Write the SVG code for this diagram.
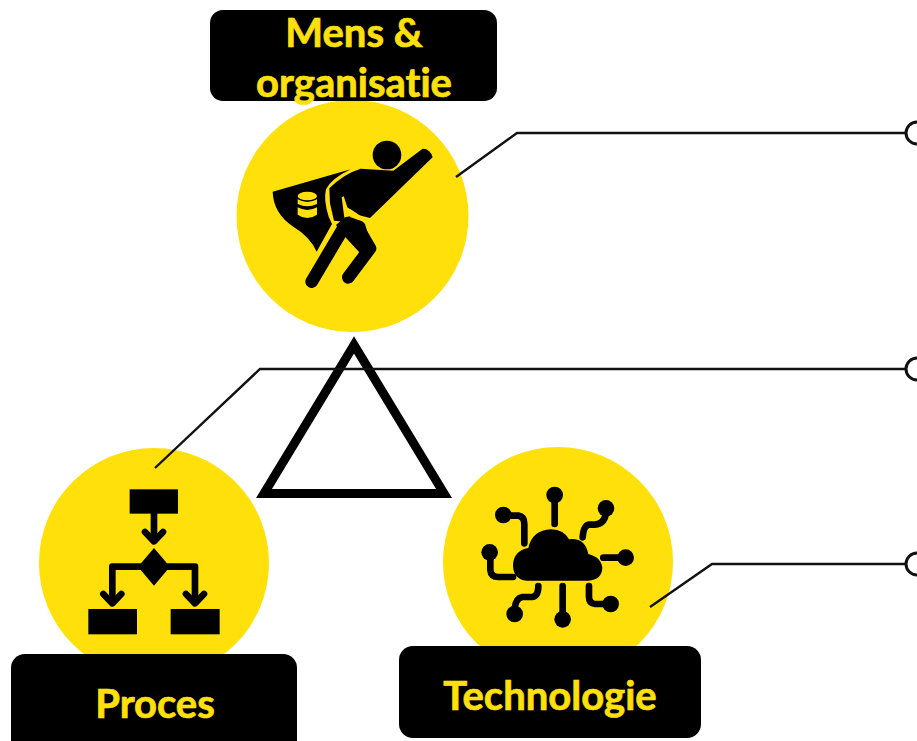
<svg xmlns="http://www.w3.org/2000/svg" width="917" height="741" viewBox="0 0 917 741">
<style>
.disc{fill:#FFE00A}
.box{fill:#000}
.lbl{font-family:"Lato","Carlito","Open Sans",sans-serif;font-weight:700;font-size:40px;fill:#FFE00A;stroke:#FFE00A;stroke-width:.7;text-anchor:middle;font-variant-ligatures:none}
.k{fill:#000}
.ks{fill:none;stroke:#000;stroke-linecap:round;stroke-linejoin:round}
.conn{fill:none;stroke:#111;stroke-width:2.4}
.end{fill:#fff;stroke:#111;stroke-width:3}
</style>
<rect width="917" height="741" fill="#fff"/>
<g id="triangle"><polygon points="354,345 264,493.500 444,493.500" fill="none" stroke="#000" stroke-width="9"/></g>
<g id="node-mens">
<circle class="disc" cx="352.500" cy="216" r="116"/>
<g transform="translate(230,100) scale(.3333)">
<circle class="k" cx="471" cy="165" r="43"/>
<path class="k" d="M128 275L362 208Q305 235 288 268Q280 300 296 350L306 372L260 455Q240 410 190 380Q130 340 128 275Z"/>
<path class="k" d="M298 265Q340 222 392 206L490 212L578 146Q600 145 608 172L420 354L385 345L352 322L340 285L362 278L335 292L342 345L345 365L312 362L300 310Z"/>
<path class="k" d="M318 375L345 352L380 345L405 372L412 395L436 445L400 470L345 410Z"/>
<path class="ks" stroke-width="38" d="M340 385L245 545"/>
<path class="ks" stroke-width="38" d="M385 385L420 445L355 532"/>
<path d="M350 335L362 328L395 350L408 368L392 362L362 352Z" fill="#FFE00A"/>
<g fill="#FFE00A"><ellipse cx="232" cy="288" rx="29" ry="13"/><path d="M203 298Q232 314 261 298V312Q232 326 203 312Z"/><path d="M203 322Q232 338 261 322V344Q232 364 203 344Z"/></g>
</g>
</g>
<g id="node-proces">
<circle class="disc" cx="154" cy="563" r="115"/>
<g transform="translate(40,450) scale(.3333)">
<rect class="k" x="269" y="118" width="145" height="73"/>
<rect class="k" x="145" y="477" width="146" height="76"/>
<rect class="k" x="392" y="477" width="147" height="76"/>
<polygon class="k" points="342,294 390,350 342,407 294,350"/>
<path class="ks" stroke-width="20" stroke-linecap="butt" d="M342 190V270"/>
<path class="ks" stroke-width="20" d="M315 246L342 274L369 246"/>
<path class="ks" stroke-width="20" stroke-linejoin="miter" stroke-linecap="butt" d="M300 350H217V455"/>
<path class="ks" stroke-width="20" d="M190 432L217 460L244 432"/>
<path class="ks" stroke-width="20" stroke-linejoin="miter" stroke-linecap="butt" d="M385 350H465V455"/>
<path class="ks" stroke-width="20" d="M438 432L465 460L492 432"/>
</g>
</g>
<g id="node-technologie">
<circle class="disc" cx="558" cy="562" r="115"/>
<g transform="translate(445,450) scale(.3333)">
<path class="k" d="M245 392Q204 388 204 345Q206 302 250 294Q262 240 318 238Q358 240 372 268Q420 262 430 312Q470 322 472 355Q470 390 430 392Z"/>
<g class="k"><circle cx="329" cy="135" r="25"/><circle cx="483" cy="175" r="25"/><circle cx="175" cy="195" r="25"/><circle cx="134" cy="307" r="25"/><circle cx="542" cy="323" r="25"/><circle cx="497" cy="462" r="25"/><circle cx="353" cy="508" r="25"/><circle cx="209" cy="492" r="25"/></g>
<g class="ks" stroke-width="20" stroke-linecap="butt">
<path d="M329 150V222"/>
<path d="M483 190Q478 222 450 224H432Q416 226 413 262"/>
<path d="M190 197H220Q238 200 238 222V280"/>
<path d="M136 325V360Q138 381 160 381H204"/>
<path d="M525 323H475"/>
<path d="M480 462H450Q432 460 432 440V408"/>
<path d="M353 490V408"/>
<path d="M209 475Q212 445 232 441H262Q280 438 280 408"/>
</g>
</g>
</g>
<g id="connectors">
<path class="conn" d="M456 177L517 133H906"/>
<path class="conn" d="M155 468L260 369H906"/>
<path class="conn" d="M650 607L712 564H906"/>
<circle class="end" cx="917" cy="133" r="11"/>
<circle class="end" cx="917" cy="369" r="11"/>
<circle class="end" cx="917" cy="564" r="11"/>
</g>
<g id="label-mens">
<rect class="box" x="210" y="10" width="287" height="91" rx="13"/>
<text class="lbl" x="354" y="47">Mens &amp;</text>
<text class="lbl" x="354" y="97">organisatie</text>
</g>
<g id="label-proces">
<rect class="box" x="11" y="654" width="286" height="100" rx="14"/>
<text class="lbl" x="155" y="718">Proces</text>
</g>
<g id="label-technologie">
<rect class="box" x="399" y="646" width="302" height="92" rx="14"/>
<text class="lbl" x="550" y="710">Technologie</text>
</g>
</svg>
